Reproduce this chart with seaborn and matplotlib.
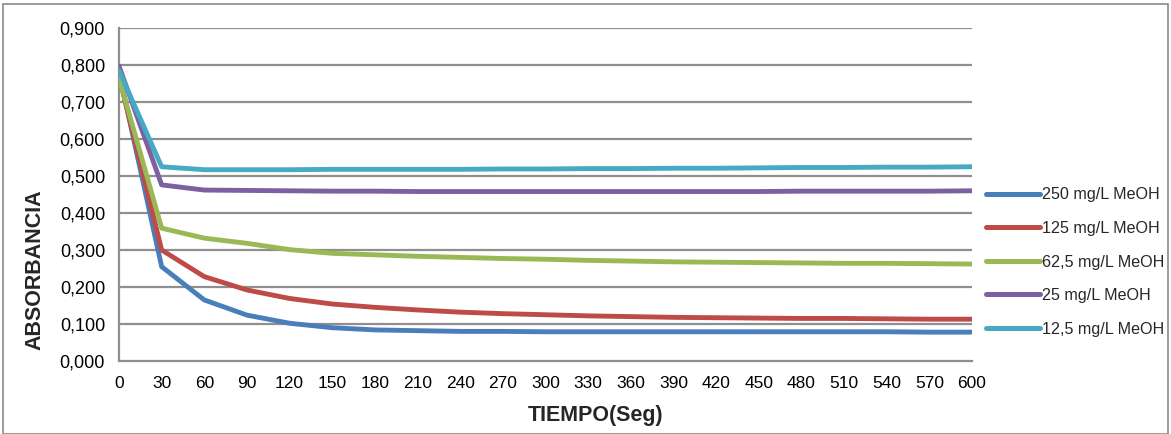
import matplotlib
matplotlib.use("Agg")
import matplotlib.pyplot as plt
import matplotlib.ticker as mticker
from matplotlib.patches import Rectangle
import seaborn as sns
import pandas as pd

# Sampling times (s)
tiempo = [0, 30, 60, 90, 120, 150, 180, 210, 240, 270, 300,
          330, 360, 390, 420, 450, 480, 510, 540, 570, 600]

# Absorbance per methanolic extract concentration
abs_250 = [0.780, 0.255, 0.165, 0.124, 0.102, 0.090, 0.084, 0.082, 0.080, 0.080, 0.079,
           0.079, 0.079, 0.079, 0.079, 0.079, 0.079, 0.079, 0.079, 0.078, 0.078]
abs_125 = [0.770, 0.300, 0.228, 0.192, 0.169, 0.154, 0.145, 0.138, 0.132, 0.128, 0.125,
           0.122, 0.120, 0.118, 0.117, 0.116, 0.115, 0.115, 0.114, 0.113, 0.113]
abs_62_5 = [0.765, 0.359, 0.332, 0.318, 0.301, 0.291, 0.287, 0.283, 0.280, 0.277, 0.275,
            0.272, 0.270, 0.268, 0.267, 0.266, 0.265, 0.264, 0.264, 0.263, 0.262]
abs_25 = [0.797, 0.476, 0.462, 0.461, 0.460, 0.459, 0.459, 0.458, 0.458, 0.458, 0.458,
          0.458, 0.458, 0.458, 0.458, 0.458, 0.459, 0.459, 0.459, 0.459, 0.460]
abs_12_5 = [0.785, 0.525, 0.517, 0.517, 0.517, 0.518, 0.518, 0.518, 0.518, 0.519, 0.519,
            0.520, 0.520, 0.521, 0.521, 0.522, 0.523, 0.523, 0.524, 0.524, 0.525]

series_names = ["250 mg/L MeOH", "125 mg/L MeOH", "62,5 mg/L MeOH",
                "25 mg/L MeOH", "12,5 mg/L MeOH"]
series_values = [abs_250, abs_125, abs_62_5, abs_25, abs_12_5]
colors = ["#4A7EBB", "#BE4B48", "#98B954", "#7D60A0", "#46AAC5"]

y_ticks = [0.0, 0.1, 0.2, 0.3, 0.4, 0.5, 0.6, 0.7, 0.8, 0.9]

rows = []
for name, vals in zip(series_names, series_values):
    for t, v in zip(tiempo, vals):
        rows.append({"TIEMPO": t, "ABS": v, "Serie": name})
df = pd.DataFrame(rows)

sns.set_theme(style="white")
plt.rcParams["font.family"] = ["Liberation Sans", "DejaVu Sans"]

fig = plt.figure(figsize=(11.71, 4.34), dpi=100)
ax = fig.add_axes([119 / 1171, 1 - 361 / 434, (972 - 119) / 1171, (361 - 28) / 434])

grid_col = "#8f8f8f"
for yv in y_ticks[1:]:
    ax.axhline(yv, color=grid_col, lw=1.6, zorder=0)

sns.lineplot(data=df, x="TIEMPO", y="ABS", hue="Serie", hue_order=series_names,
             palette=colors, linewidth=3.5, ax=ax, legend=True,
             solid_capstyle="round", solid_joinstyle="round", zorder=3)

ax.set_xlim(0, 600)
ax.set_ylim(0, 0.9)
ax.set_xticks(tiempo)
ax.set_yticks(y_ticks)
ax.yaxis.set_major_formatter(mticker.FuncFormatter(lambda v, p: f"{v:.3f}".replace(".", ",")))
ax.tick_params(axis="both", colors=grid_col, labelcolor="black",
               length=6, width=1.6, direction="out")
ax.tick_params(axis="x", labelsize=12.5, pad=5)
ax.tick_params(axis="y", labelsize=13, pad=4)
for side in ["top", "right"]:
    ax.spines[side].set_visible(False)
for side in ["left", "bottom"]:
    ax.spines[side].set_color(grid_col)
    ax.spines[side].set_linewidth(1.6)
ax.set_xlabel("")
ax.set_ylabel("")

fig.text(596 / 1171, 1 - 416 / 434, "TIEMPO(Seg)", fontsize=15.5, fontweight="bold",
         ha="center", va="center")
fig.text(35 / 1171, 1 - 270 / 434, "ABSORBANCIA", fontsize=15.5, fontweight="bold",
         ha="center", va="center", rotation=90)

handles, labels = ax.get_legend_handles_labels()
leg = ax.legend(handles, labels, loc="center left", bbox_to_anchor=(980 / 1171, 1 - 262 / 434),
                bbox_transform=fig.transFigure, frameon=False, fontsize=11.6,
                handlelength=3.3, handletextpad=0.15, labelspacing=1.15, borderaxespad=0)
for line in leg.get_lines():
    line.set_linewidth(3.6)
    line.set_solid_capstyle("round")

fig.patches.append(Rectangle((3 / 1171, 0.0), 1 - 6 / 1171, 1 - 4 / 434,
                             transform=fig.transFigure, fill=False,
                             edgecolor="#8a8a8a", linewidth=1.2, zorder=0))

fig.savefig("out.png", dpi=100)
